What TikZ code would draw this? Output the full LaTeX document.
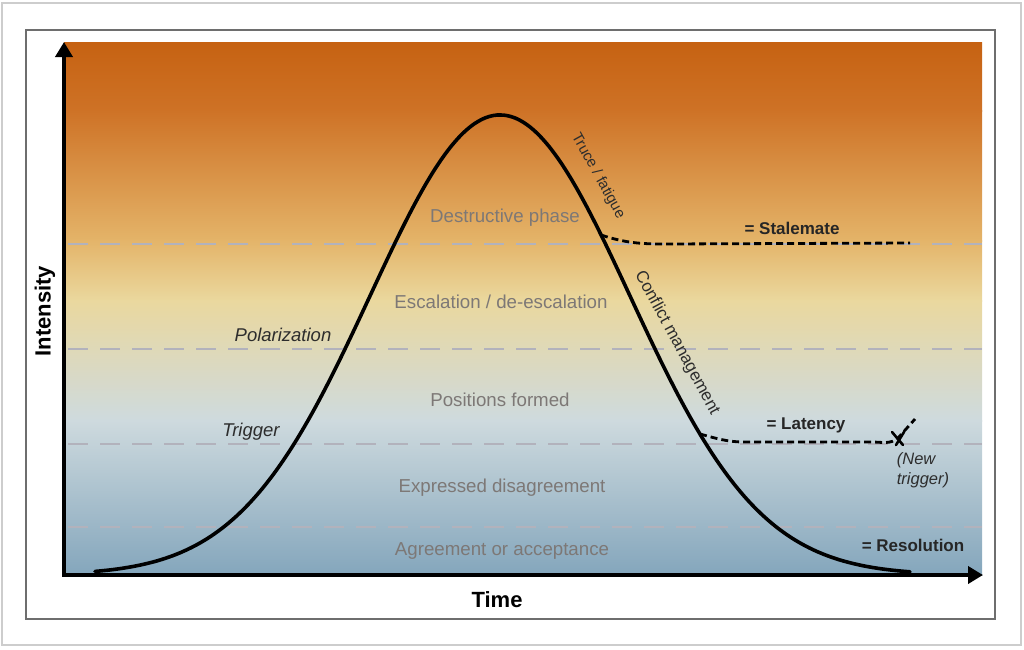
\documentclass[tikz,border=0pt]{standalone}
\usepackage{fontspec}
\setmainfont{Liberation Sans}
\usetikzlibrary{arrows.meta}
\definecolor{g1}{RGB}{198,98,18}
\definecolor{g2}{RGB}{206,114,38}
\definecolor{g3}{RGB}{228,180,105}
\definecolor{g4}{RGB}{234,216,158}
\definecolor{g5}{RGB}{206,218,222}
\definecolor{g6}{RGB}{132,166,188}
\definecolor{phasegray}{RGB}{125,120,118}
\definecolor{darktext}{RGB}{45,45,45}
\definecolor{gridgray}{RGB}{178,178,188}
\definecolor{framegray}{RGB}{110,110,110}
\definecolor{outergray}{RGB}{205,205,205}
\tikzset{
  phase/.style={text=phasegray, font=\fontsize{18.7}{22}\selectfont},
  lab/.style={text=darktext, font=\fontsize{18.5}{22}\selectfont\itshape},
  eqlab/.style={text=black!85, font=\fontsize{17}{20}\selectfont\bfseries},
  rotlab/.style={text=darktext, font=\fontsize{16}{19}\selectfont},
  axislab/.style={text=black, font=\fontsize{22}{26}\selectfont\bfseries},
  gridline/.style={draw=gridgray, line width=2pt, dash pattern=on 20pt off 12pt},
  bell/.style={draw=black, line width=3.6pt},
  dline/.style={draw=black, line width=2.8pt, dash pattern=on 7pt off 4pt},
  axisline/.style={draw=black, line width=4pt, {Triangle[length=15pt,width=17pt]}-{Triangle[length=15pt,width=17pt]}},
}
\begin{document}
\begin{tikzpicture}[x=1pt,y=-1pt]
\useasboundingbox (0,0) rectangle (1024,649);
% frames
\draw[outergray, line width=2pt] (2,3) rectangle (1021,645);
\draw[framegray, line width=2pt] (26,30) rectangle (995,619);
% gradient background
\shade[top color=g1, bottom color=g2] (64,42) rectangle (982,111);
\shade[top color=g2, bottom color=g3] (64,110) rectangle (982,241);
\shade[top color=g3, bottom color=g4] (64,240) rectangle (982,301);
\shade[top color=g4, bottom color=g5] (64,300) rectangle (982,421);
\shade[top color=g5, bottom color=g6] (64,420) rectangle (982,575);
% horizontal dashed levels
\foreach \yy in {244,349,444,527} {
  \draw[gridline] (68,\yy) -- (982,\yy);
}
% bell curve
\draw[bell, line cap=round] plot[domain=95:910, samples=220, smooth] (\x, {575-460*exp(-0.5*((\x-500)/130)^2)});
% branch coordinates on the curve
\coordinate (truce) at (601,235);
\coordinate (stale) at (665,244);
\coordinate (staleend) at (910,243);
\coordinate (cm) at (700,434);
\coordinate (lat1) at (745,442);
\coordinate (lat2) at (872,442);
\coordinate (xmark) at (898,438);
\coordinate (latend) at (915,419);
% stalemate
\draw[dline] (truce) to[out=-18,in=180] (stale) -- (staleend);
% latency
\draw[dline] (cm) to[out=-15,in=180] (lat1) -- (lat2) to[out=0,in=-140] (xmark) -- (latend);
% X mark
\draw[black, line width=2.6pt, line cap=round] ([shift={(-6,-6)}]xmark) -- ([shift={(5,7)}]xmark);
\draw[black, line width=2.6pt, line cap=round] ([shift={(6,-6)}]xmark) -- ([shift={(-2,7)}]xmark);
% axes
\coordinate (ytop) at (64,42);
\coordinate (O) at (64,575);
\coordinate (xend) at (983,575);
\draw[axisline] (ytop) -- (O) -- (xend);
% phase labels
\node[phase] (p1) at (505,218) {Destructive phase};
\node[phase] (p2) at (501,302) {Escalation / de-escalation};
\node[phase] (p3) at (500,400) {Positions formed};
\node[phase] (p4) at (502,488) {Expressed disagreement};
\node[phase] (p5) at (502,551) {Agreement or acceptance};
% side labels
\node[lab] (pol) at (283,335) {Polarization};
\node[lab] (trig) at (251,432) {Trigger};
\node[rotlab, rotate=-61, font=\fontsize{15}{18}\selectfont] (tf) at (598,176) {Truce / fatigue};
\node[rotlab, rotate=-61.5, font=\fontsize{17}{20}\selectfont] (cmlab) at (677,343) {Conflict management};
\node[eqlab] (st) at (792,228) {= Stalemate};
\node[eqlab] (la) at (806,425) {= Latency};
\node[eqlab] (re) at (913,545) {= Resolution};
\node[text=darktext, font=\fontsize{16.5}{20}\selectfont\itshape, align=left] (nt) at (923,470) {(New\\trigger)};
% axis labels
\node[axislab, rotate=90] (ylab) at (45,311) {Intensity};
\node[axislab] (xlab) at (497,600) {Time};
\end{tikzpicture}
\end{document}
